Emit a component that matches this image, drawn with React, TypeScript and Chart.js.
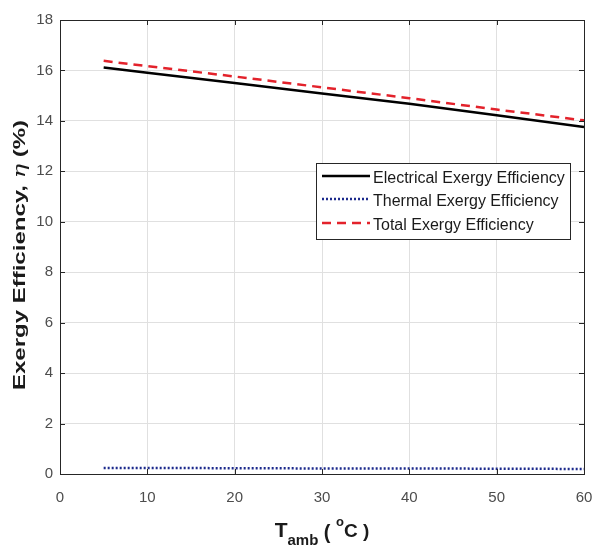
import React, { useEffect, useRef } from "react";
import { Chart, registerables } from "chart.js";

Chart.register(...registerables);

// Ambient temperature (°C) and exergy efficiencies (%)
const ambientTemps = [5, 10, 20, 30, 40, 50, 60];
const electricalExergy = [16.12, 15.91, 15.5, 15.09, 14.68, 14.22, 13.76];
const thermalExergy = [0.24, 0.24, 0.23, 0.22, 0.22, 0.21, 0.2];
const totalExergy = [16.38, 16.17, 15.76, 15.33, 14.9, 14.45, 14.02];

const xTicks = [0, 10, 20, 30, 40, 50, 60];
const yTicks = [0, 2, 4, 6, 8, 10, 12, 14, 16, 18];

const seriesNames = [
  "Electrical Exergy Efficiency",
  "Thermal Exergy Efficiency",
  "Total Exergy Efficiency",
];

const FONT = "'Liberation Sans', Arial, Helvetica, sans-serif";
const AXIS_COLOR = "#262626";

const framePlugin = {
  id: "matlabFrame",
  afterDraw(chart: any) {
    const { ctx, chartArea: a, scales } = chart;
    const xs = scales.x;
    const ys = scales.y;
    ctx.save();

    // box
    ctx.strokeStyle = AXIS_COLOR;
    ctx.lineWidth = 1;
    ctx.strokeRect(Math.round(a.left) + 0.5, Math.round(a.top) + 0.5,
      Math.round(a.right - a.left), Math.round(a.bottom - a.top));

    // inward tick marks on all four sides
    const tl = 5;
    ctx.beginPath();
    xTicks.forEach((v) => {
      const px = Math.round(xs.getPixelForValue(v)) + 0.5;
      ctx.moveTo(px, a.bottom);
      ctx.lineTo(px, a.bottom - tl);
      ctx.moveTo(px, a.top);
      ctx.lineTo(px, a.top + tl);
    });
    yTicks.forEach((v) => {
      const py = Math.round(ys.getPixelForValue(v)) + 0.5;
      ctx.moveTo(a.left, py);
      ctx.lineTo(a.left + tl, py);
      ctx.moveTo(a.right, py);
      ctx.lineTo(a.right - tl, py);
    });
    ctx.stroke();

    // legend
    const lx = a.left + 256;
    const ly = a.top + 143;
    const lw = 254;
    const lh = 76;
    ctx.fillStyle = "#ffffff";
    ctx.fillRect(lx, ly, lw, lh);
    ctx.strokeStyle = AXIS_COLOR;
    ctx.lineWidth = 1;
    ctx.strokeRect(lx + 0.5, ly + 0.5, lw, lh);
    const rows = [13, 36, 60];
    chart.data.datasets.forEach((ds: any, i: number) => {
      const y = ly + rows[i];
      ctx.beginPath();
      ctx.strokeStyle = ds.borderColor;
      ctx.lineWidth = ds.borderWidth;
      ctx.setLineDash(ds.borderDash || []);
      ctx.moveTo(lx + 6, y);
      ctx.lineTo(lx + 54, y);
      ctx.stroke();
      ctx.setLineDash([]);
      ctx.fillStyle = "#1a1a1a";
      ctx.font = `16px ${FONT}`;
      ctx.textBaseline = "middle";
      ctx.textAlign = "left";
      ctx.fillText(ds.label, lx + 57, y + 3);
    });

    // x-axis title: T_amb ( °C )
    const cx = (a.left + a.right) / 2;
    const parts = [
      { t: "T", size: 21, dy: 0 },
      { t: "amb", size: 15, dy: 8 },
      { t: " ( ", size: 20, dy: 2 },
      { t: "o", size: 13, dy: -11 },
      { t: "C )", size: 19, dy: 0 },
    ];
    ctx.fillStyle = "#1a1a1a";
    ctx.textBaseline = "alphabetic";
    ctx.textAlign = "left";
    let total = 0;
    parts.forEach((p) => {
      ctx.font = `bold ${p.size}px ${FONT}`;
      total += ctx.measureText(p.t).width;
    });
    let x = cx - total / 2;
    const base = 537;
    parts.forEach((p) => {
      ctx.font = `bold ${p.size}px ${FONT}`;
      ctx.fillText(p.t, x, base + p.dy);
      x += ctx.measureText(p.t).width;
    });

    // y-axis title: Exergy Efficiency, η (%)
    const cy = (a.top + a.bottom) / 2 + 8;
    const yParts = [
      { t: "Exergy Efficiency, ", font: `bold 24px ${FONT}` },
      { t: "η", font: `italic 24px 'DejaVu Serif', serif` },
      { t: " (%)", font: `bold 24px ${FONT}` },
    ];
    ctx.save();
    ctx.translate(25, cy);
    ctx.rotate(-Math.PI / 2);
    ctx.scale(1, 0.68);
    let ytotal = 0;
    yParts.forEach((p) => {
      ctx.font = p.font;
      ytotal += ctx.measureText(p.t).width;
    });
    let yx = -ytotal / 2;
    yParts.forEach((p) => {
      ctx.font = p.font;
      ctx.fillText(p.t, yx, 0);
      yx += ctx.measureText(p.t).width;
    });
    ctx.restore();

    ctx.restore();
  },
};

export default function App() {
  const canvasRef = useRef<HTMLCanvasElement | null>(null);

  useEffect(() => {
    if (!canvasRef.current) return;
    const toPoints = (vals: number[]) =>
      ambientTemps.map((t, i) => ({ x: t, y: vals[i] }));

    const chart = new Chart(canvasRef.current, {
      type: "line",
      data: {
        datasets: [
          {
            label: seriesNames[0],
            data: toPoints(electricalExergy),
            borderColor: "#000000",
            borderWidth: 2.5,
            pointRadius: 0,
            tension: 0,
          },
          {
            label: seriesNames[1],
            data: toPoints(thermalExergy),
            borderColor: "#1c2a8c",
            borderWidth: 2.5,
            borderDash: [2, 2],
            pointRadius: 0,
            tension: 0,
          },
          {
            label: seriesNames[2],
            data: toPoints(totalExergy),
            borderColor: "#e3222b",
            borderWidth: 2.5,
            borderDash: [9, 6],
            pointRadius: 0,
            tension: 0,
          },
        ],
      },
      options: {
        animation: false,
        responsive: false,
        devicePixelRatio: 1,
        layout: { padding: { left: 0, right: 11, top: 20, bottom: 0 } },
        plugins: {
          legend: { display: false },
          tooltip: { enabled: false },
          title: { display: false },
        },
        scales: {
          x: {
            type: "linear",
            min: 0,
            max: 60,
            afterBuildTicks: (scale: any) => {
              scale.ticks = xTicks.map((v) => ({ value: v }));
            },
            afterFit: (scale: any) => {
              scale.height = 73;
              scale.paddingLeft = 0;
              scale.paddingRight = 0;
            },
            grid: { color: "#e0e0e0", drawTicks: false, lineWidth: 1 },
            border: { display: false },
            ticks: {
              padding: 15,
              color: "#4d4d4d",
              font: { family: FONT, size: 15 },
              maxRotation: 0,
            },
          },
          y: {
            type: "linear",
            min: 0,
            max: 18,
            afterBuildTicks: (scale: any) => {
              scale.ticks = yTicks.map((v) => ({ value: v }));
            },
            afterFit: (scale: any) => {
              scale.width = 60;
            },
            grid: { color: "#e0e0e0", drawTicks: false, lineWidth: 1 },
            border: { display: false },
            ticks: {
              padding: 7,
              color: "#4d4d4d",
              font: { family: FONT, size: 15 },
            },
          },
        },
      },
      plugins: [framePlugin],
    });

    return () => chart.destroy();
  }, []);

  return (
    <div style={{ position: "absolute", left: 0, top: 0, width: 595, height: 547, background: "#ffffff" }}>
      <canvas ref={canvasRef} width={595} height={547} style={{ display: "block" }} />
    </div>
  );
}
